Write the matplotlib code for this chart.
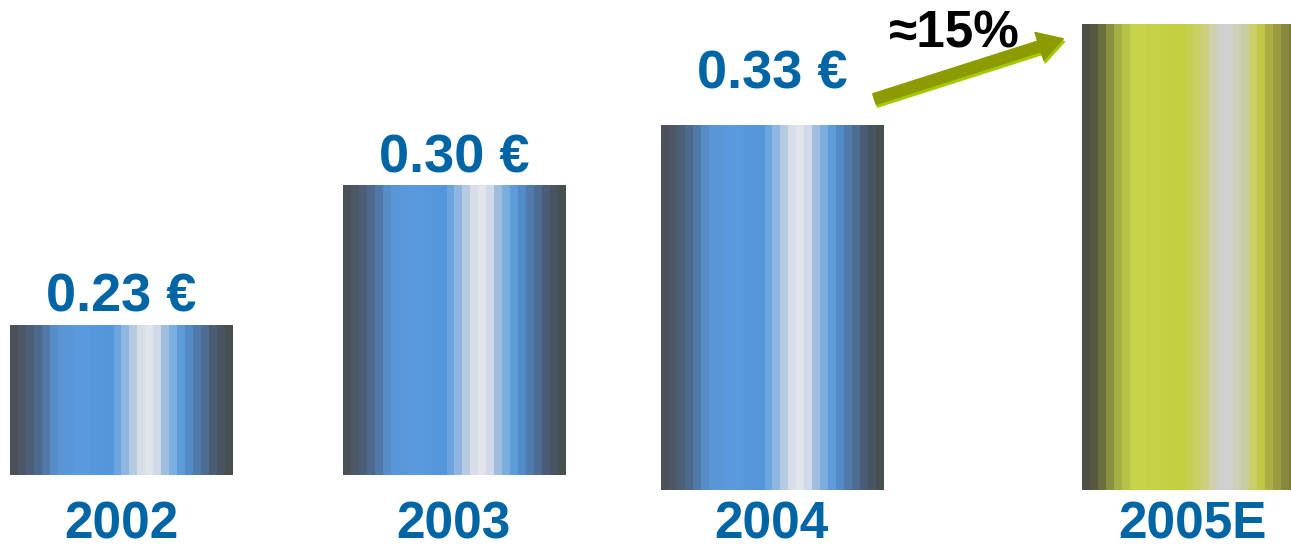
import matplotlib.pyplot as plt
import numpy as np
from matplotlib.colors import LinearSegmentedColormap
from matplotlib.patches import FancyArrowPatch
from matplotlib.transforms import ScaledTranslation

plt.rcParams['font.family'] = ['Liberation Sans', 'DejaVu Sans']

# Dividend per share
years = ["2002", "2003", "2004", "2005E"]
values = [0.23, 0.30, 0.33, 0.38]
value_labels = ["0.23 €", "0.30 €", "0.33 €", None]
growth_label = "≈15%"

# layout
xpos = [0.0, 1.0, 1.955, 3.219]
bar_bottom = [0.1553, 0.1553, 0.1479, 0.1479]
label_offset = [10, 9, 26, 0]   # points above bar top
bar_width = 0.667
text_blue = "#0065a4"

blue_stops = [(0.00, "#4b5159"), (0.05, "#4e5a6a"), (0.12, "#4d6d94"),
              (0.20, "#5a95d3"), (0.30, "#5b9ade"), (0.45, "#5396dc"),
              (0.50, "#7aaee0"), (0.55, "#b0c8e0"), (0.60, "#dfe3ea"),
              (0.65, "#e4e6ec"), (0.70, "#a8c0de"), (0.76, "#66a6de"),
              (0.80, "#5592d6"), (0.88, "#4e7098"), (0.95, "#4a5668"),
              (1.00, "#465050")]
green_stops = [(0.00, "#4e5047"), (0.05, "#5c5e3c"), (0.15, "#a8b445"),
               (0.22, "#c8d44a"), (0.45, "#c4d040"), (0.55, "#ccd074"),
               (0.61, "#d0d0c8"), (0.67, "#d2d2d2"), (0.74, "#c8cca0"),
               (0.80, "#cdd04a"), (0.88, "#a0a040"), (0.96, "#7a7a3a"),
               (1.00, "#6a6a38")]
blue_cmap = LinearSegmentedColormap.from_list("bar_blue", blue_stops)
green_cmap = LinearSegmentedColormap.from_list("bar_green", green_stops)

fig = plt.figure(figsize=(12.91, 5.51), dpi=100)
ax = fig.add_axes([0, 0, 1, 1])
ax.set_axis_off()

heights = [v - b for v, b in zip(values, bar_bottom)]
bars = ax.bar(xpos, heights, bottom=bar_bottom, width=bar_width,
              facecolor="none", edgecolor="none")

# banded horizontal shading inside each bar
bands = np.linspace(0, 1, 28).reshape(1, -1)
for i, rect in enumerate(bars):
    x0, y0 = rect.get_x(), rect.get_y()
    cmap = green_cmap if i == 3 else blue_cmap
    im = ax.imshow(bands, cmap=cmap, aspect="auto", interpolation="nearest",
                   extent=[x0, x0 + rect.get_width(), y0, y0 + rect.get_height()],
                   zorder=2)
    im.set_clip_path(rect)

for i, rect in enumerate(bars):
    cx = rect.get_x() + rect.get_width() / 2
    if value_labels[i]:
        ax.annotate(value_labels[i], (cx, values[i]),
                    xytext=(0, label_offset[i]), textcoords="offset points",
                    ha="center", va="baseline", fontsize=39,
                    fontweight="bold", color=text_blue)
    ax.text(cx, 0.022, years[i], transform=ax.get_xaxis_transform(),
            ha="center", va="baseline", fontsize=37, fontweight="bold",
            color=text_blue)

# growth arrow from 2004 to 2005E
start = (2.255, 0.3423)
end = (2.838, 0.3732)
style = "simple,head_width=21,head_length=18,tail_width=8"
shadow = FancyArrowPatch(start, end, arrowstyle=style, color="#a6c800",
                         mutation_scale=1, zorder=3,
                         transform=ax.transData + ScaledTranslation(1 / 72, -2 / 72, fig.dpi_scale_trans))
ax.add_patch(shadow)
arrow = FancyArrowPatch(start, end, arrowstyle=style, color="#8c9c00",
                        mutation_scale=1, zorder=4)
ax.add_patch(arrow)
ax.text(2.502, 0.3682, growth_label, ha="center", va="baseline",
        fontsize=37, fontweight="bold", color="black")

ax.set_xlim(-0.363, 3.514)
ax.set_ylim(0.1174, 0.3921)

fig.savefig("out.png", dpi=100)
